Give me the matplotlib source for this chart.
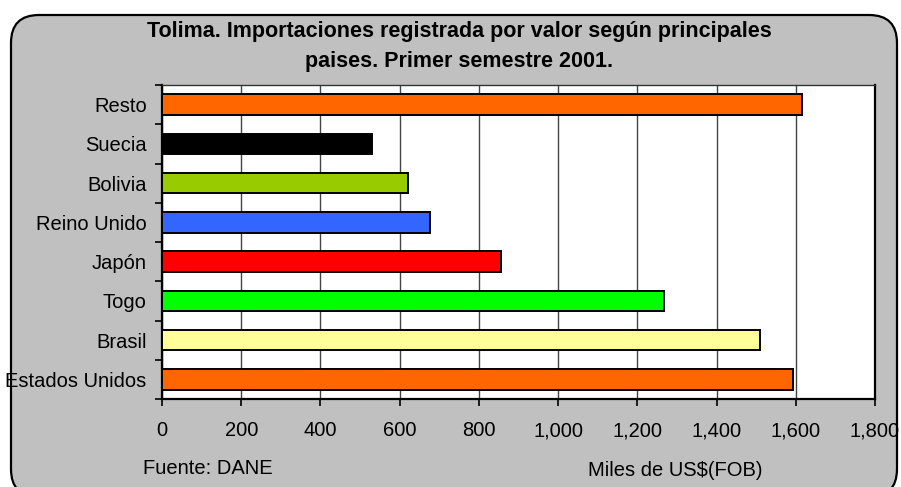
import matplotlib.pyplot as plt
import numpy as np
from matplotlib.patches import FancyBboxPatch

plt.rcParams['font.family'] = ['Liberation Sans', 'DejaVu Sans']

# datos (miles de US$ FOB)
paises = ['Estados Unidos', 'Brasil', 'Togo', 'Japón', 'Reino Unido', 'Bolivia', 'Suecia', 'Resto']
valores = [1593, 1509, 1267, 857, 676, 622, 530, 1616]
colores = ['#FF6600', '#FFFF99', '#00FF00', '#FF0000', '#3366FF', '#99CC00', '#000000', '#FF6600']
xticks = [0, 200, 400, 600, 800, 1000, 1200, 1400, 1600, 1800]

W, H = 901, 487
fig = plt.figure(figsize=(W/100, H/100), dpi=100)
fig.patch.set_facecolor('white')

# fondo gris con borde redondeado (ejes en pixeles)
bg = fig.add_axes([0, 0, 1, 1], zorder=0)
bg.set_xlim(0, W)
bg.set_ylim(H, 0)
bg.axis('off')
caja = FancyBboxPatch((11, 15), 886, 482, boxstyle='round,pad=0,rounding_size=28',
                      facecolor='#C0C0C0', edgecolor='black', linewidth=1.6)
bg.add_patch(caja)

ax = fig.add_axes([162/W, (H-399)/H, (875-162)/W, (399-85)/H], zorder=1)
ax.set_facecolor('white')
y = np.arange(len(paises))
ax.barh(y, valores, height=0.52, color=colores, edgecolor='black', linewidth=1.4, zorder=3)

ax.set_xlim(0, 1800)
ax.set_ylim(-0.5, len(paises)-0.5)
ax.set_xticks(xticks)
ax.set_xticklabels(['{:,}'.format(v) for v in xticks])
ax.set_yticks(y)
ax.set_yticklabels(paises)
ax.set_yticks(np.arange(-0.5, len(paises), 1), minor=True)
ax.tick_params(axis='y', which='major', length=0, pad=11, labelsize=14.5)
ax.tick_params(axis='y', which='minor', length=5, width=1.2, direction='out')
ax.tick_params(axis='x', length=5, width=1.2, direction='out', pad=11, labelsize=14.5)
ax.grid(axis='x', color='#444444', linewidth=1, zorder=1)
for s in ['left', 'bottom', 'right']:
    ax.spines[s].set_linewidth(1.6)
ax.spines['top'].set_linewidth(1)
ax.spines['top'].set_color('#333333')

fig.text(459/W, 1-32/H, 'Tolima. Importaciones registrada por valor según principales',
         ha='center', va='center', fontsize=15.5, fontweight='bold')
fig.text(459/W, 1-62/H, 'paises. Primer semestre 2001.',
         ha='center', va='center', fontsize=15.5, fontweight='bold')
fig.text(143/W, 1-468/H, 'Fuente: DANE', ha='left', va='center', fontsize=14.5)
fig.text(588/W, 1-470/H, 'Miles de US$(FOB)', ha='left', va='center', fontsize=14.5)

fig.savefig('out.png', dpi=100)
